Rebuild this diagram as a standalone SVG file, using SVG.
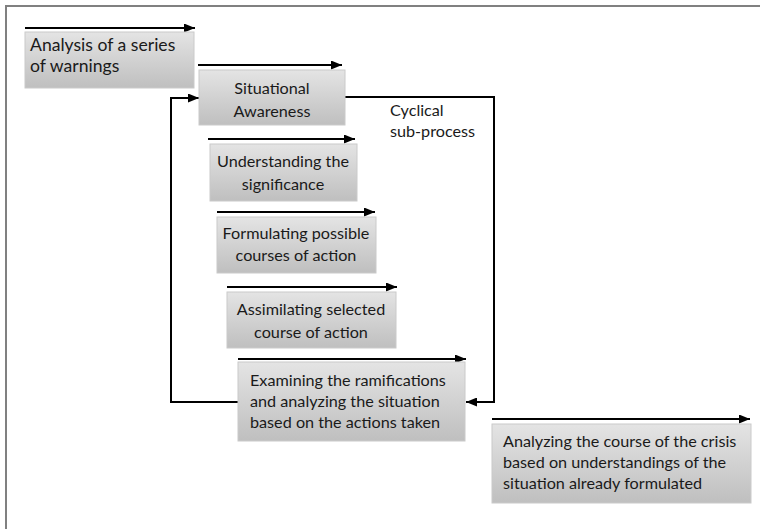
<svg xmlns="http://www.w3.org/2000/svg" width="760" height="529" viewBox="0 0 760 529">
  <defs>
    <linearGradient id="g" x1="0" y1="0" x2="0" y2="1">
      <stop offset="0" stop-color="#e4e4e4"/>
      <stop offset="1" stop-color="#bfbfbf"/>
    </linearGradient>
    <marker id="ah" viewBox="0 0 11 9" refX="11" refY="4.5" markerWidth="11" markerHeight="9" markerUnits="userSpaceOnUse" orient="auto">
      <path d="M0,0 L11,4.5 L0,9 Z" fill="#000"/>
    </marker>
  </defs>
  <style>
    .box { fill: url(#g); stroke: #cacaca; stroke-width: 1; }
    .t { font-family: Lato, "Liberation Sans", sans-serif; font-size: 16.2px; fill: #1a1a1a; }
    .big { font-size: 17.6px; }
    .c { text-anchor: middle; }
    .ar { fill: none; stroke: #000; stroke-width: 2; marker-end: url(#ah); }
    .frame { stroke: #808080; stroke-width: 2; fill: none; }
  </style>
  <rect width="760" height="529" fill="#fff"/>
  <path class="frame" d="M6,529 V6 H760"/>

  <g id="connectors">
    <line class="ar" x1="25" y1="28" x2="195" y2="28"/>
    <line class="ar" x1="198" y1="65" x2="342" y2="65"/>
    <line class="ar" x1="208" y1="139" x2="355" y2="139"/>
    <line class="ar" x1="217" y1="212" x2="375" y2="212"/>
    <line class="ar" x1="227" y1="287" x2="397" y2="287"/>
    <line class="ar" x1="238" y1="359" x2="466" y2="359"/>
    <line class="ar" x1="492" y1="419" x2="750" y2="419"/>
    <path class="ar" d="M345,97 H494 V402 H466"/>
    <path class="ar" d="M238,402 H171 V98 H199"/>
  </g>

  <g id="n1">
    <rect class="box" x="25" y="32" width="169" height="56"/>
    <text class="t big" x="30" y="51">Analysis of a series</text>
    <text class="t big" x="30" y="72">of warnings</text>
  </g>
  <g id="n2">
    <rect class="box" x="199" y="70" width="146" height="55"/>
    <text class="t c" x="272" y="94">Situational</text>
    <text class="t c" x="272" y="117">Awareness</text>
  </g>
  <g id="n3">
    <rect class="box" x="210" y="144" width="147" height="57"/>
    <text class="t c" x="283" y="167">Understanding the</text>
    <text class="t c" x="283" y="190">significance</text>
  </g>
  <g id="n4">
    <rect class="box" x="217" y="217" width="159" height="56"/>
    <text class="t c" x="296" y="239">Formulating possible</text>
    <text class="t c" x="296" y="261">courses of action</text>
  </g>
  <g id="n5">
    <rect class="box" x="227" y="292" width="169" height="56"/>
    <text class="t c" x="311" y="315">Assimilating selected</text>
    <text class="t c" x="311" y="338">course of action</text>
  </g>
  <g id="n6">
    <rect class="box" x="238" y="362" width="227" height="79"/>
    <text class="t" x="250" y="386">Examining the ramifications</text>
    <text class="t" x="250" y="407">and analyzing the situation</text>
    <text class="t" x="250" y="428">based on the actions taken</text>
  </g>
  <g id="n7">
    <rect class="box" x="492" y="424" width="259" height="79"/>
    <text class="t" x="503" y="447">Analyzing the course of the crisis</text>
    <text class="t" x="503" y="468">based on understandings of the</text>
    <text class="t" x="503" y="489">situation already formulated</text>
  </g>
  <g id="label">
    <text class="t" x="390" y="116">Cyclical</text>
    <text class="t" x="390" y="137">sub-process</text>
  </g>
</svg>
